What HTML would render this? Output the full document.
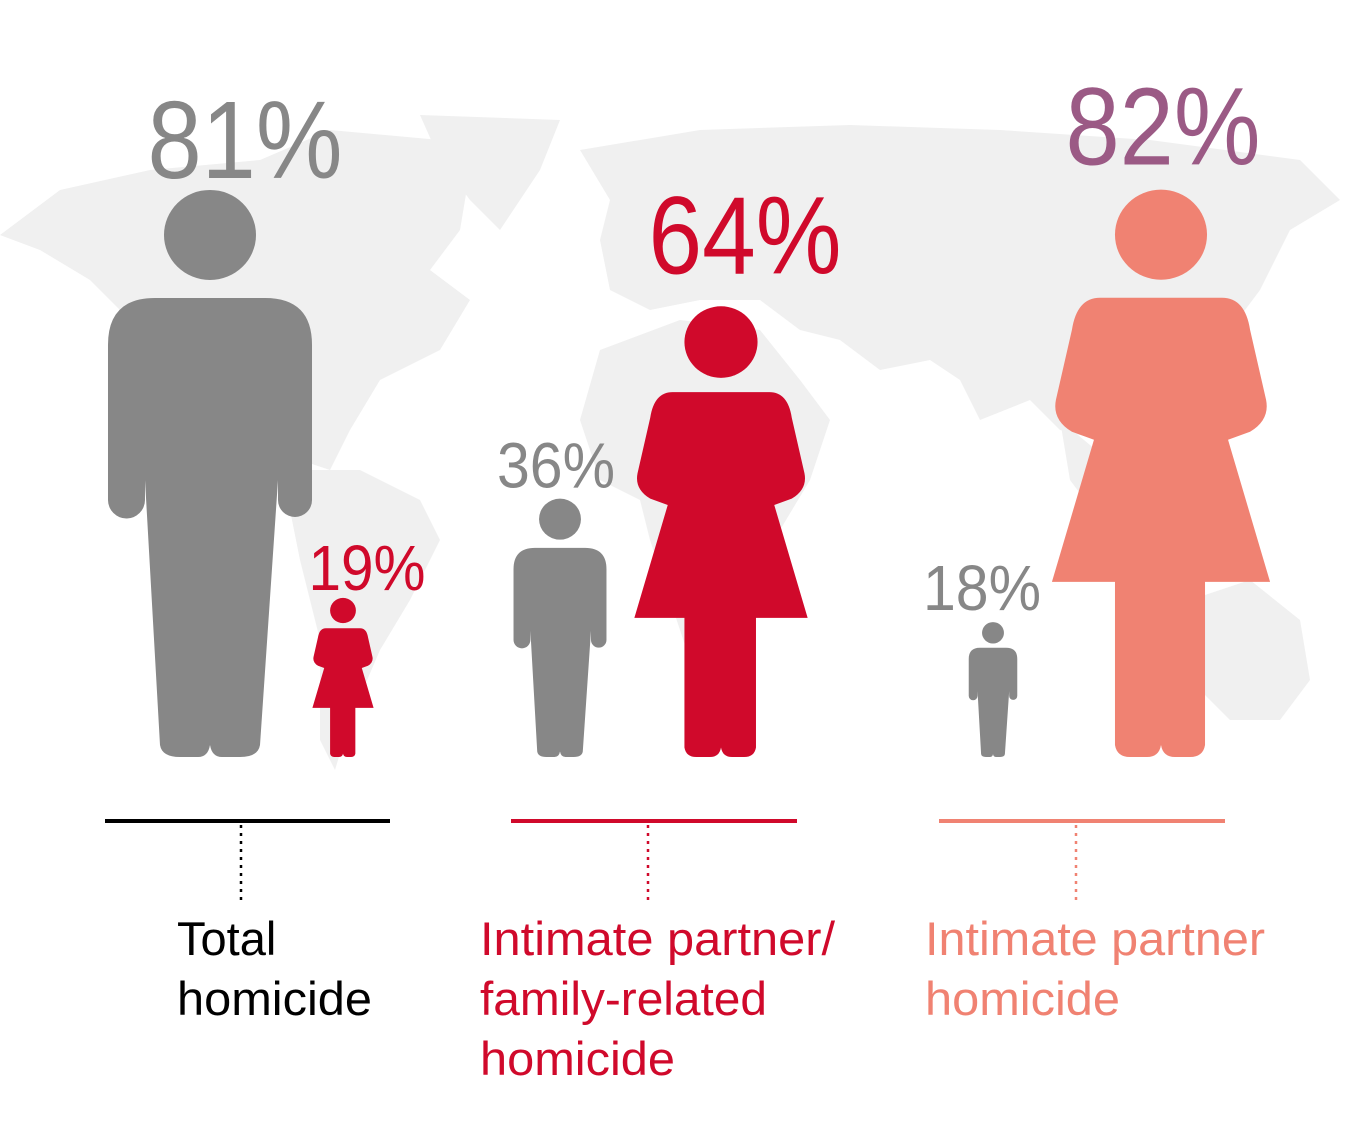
<!DOCTYPE html>
<html><head><meta charset="utf-8"><style>
html,body{margin:0;padding:0;background:#fff}
svg{display:block}
text{font-family:"Liberation Sans",sans-serif}
</style></head><body>
<svg id="chart" width="1362" height="1123" viewBox="0 0 1362 1123" xmlns="http://www.w3.org/2000/svg">
<g fill="#f0f0f0">
<path d="M0,235 L60,190 L150,170 L260,160 L330,130 L440,140 L470,170 L460,230 L430,270 L470,300 L440,350 L380,380 L350,430 L330,470 L300,460 L260,420 L200,380 L140,330 L90,280 L40,250 Z"/>
<path d="M420,115 L560,120 L540,170 L500,230 L470,200 L440,160 Z"/>
<path d="M300,470 L360,470 L420,500 L440,540 L410,600 L380,650 L350,720 L335,770 L320,740 L320,640 L300,560 L290,510 Z"/>
<path d="M580,150 L700,130 L850,125 L1000,130 L1150,140 L1300,160 L1340,200 L1290,230 L1260,290 L1230,330 L1190,380 L1150,420 L1100,440 L1060,430 L1030,400 L980,420 L960,380 L930,360 L880,370 L840,340 L800,330 L760,300 L700,300 L650,310 L610,290 L600,240 L610,200 Z"/>
<path d="M600,350 L680,320 L760,330 L800,380 L830,420 L810,480 L780,530 L760,600 L720,660 L690,660 L670,600 L650,540 L640,500 L600,480 L580,420 Z"/>
<path d="M1060,420 L1120,470 L1160,520 L1200,540 L1260,560 L1210,580 L1150,560 L1100,520 L1070,480 Z"/>
<path d="M1190,600 L1250,580 L1300,620 L1310,680 L1280,720 L1230,720 L1200,690 L1180,650 Z"/>
</g>
<g id="figures"></g>
<g id="labels"></g>
<g>
<line x1="105" y1="821" x2="390" y2="821" stroke="#000" stroke-width="4"/>
<line x1="511" y1="821" x2="797" y2="821" stroke="#d0092b" stroke-width="4"/>
<line x1="939" y1="821" x2="1225" y2="821" stroke="#f08272" stroke-width="4"/>
<line x1="241" y1="825" x2="241" y2="905" stroke="#000" stroke-width="2.5" stroke-dasharray="3,5"/>
<line x1="648" y1="825" x2="648" y2="905" stroke="#d0092b" stroke-width="2.5" stroke-dasharray="3,5"/>
<line x1="1076" y1="825" x2="1076" y2="905" stroke="#f08272" stroke-width="2.5" stroke-dasharray="3,5"/>
</g>
<g font-size="47">
<text x="177" y="955" fill="#000">Total</text>
<text x="177" y="1015" fill="#000" textLength="195" lengthAdjust="spacingAndGlyphs">homicide</text>
<text x="480" y="955" fill="#d0092b" textLength="355" lengthAdjust="spacingAndGlyphs">Intimate partner/</text>
<text x="480" y="1015" fill="#d0092b" textLength="287" lengthAdjust="spacingAndGlyphs">family-related</text>
<text x="480" y="1075" fill="#d0092b" textLength="195" lengthAdjust="spacingAndGlyphs">homicide</text>
<text x="925" y="955" fill="#f08272" textLength="340" lengthAdjust="spacingAndGlyphs">Intimate partner</text>
<text x="925" y="1015" fill="#f08272" textLength="195" lengthAdjust="spacingAndGlyphs">homicide</text>
</g>
</svg>
<script>
const categories = ["Total homicide","Total homicide","Intimate partner/family-related","Intimate partner/family-related","Intimate partner","Intimate partner"];
const sexes = ["male","female","male","female","male","female"];
const values = [81,19,36,64,18,82];
const labels = ["81%","19%","36%","64%","18%","82%"];
// layout (not data)
const centers = [210,343,560,721,993,1161];
const figColors = ["#878787","#d0092b","#878787","#d0092b","#878787","#f08272"];
const labelColors = ["#878787","#d0092b","#878787","#d0092b","#878787","#9b5a85"];
const labelX = [245,367,556,745,982,1163];
const labelSize = [110,64,64,110,64,110];
const labelWidth = [195,117,118,193,118,195];
const labelGap = [12,8,11,33,12,25];

const BASE = 757;
function hScale(v, sex){ return sex==="male" ? 11.4 + 6.86*v : 36 + 6.48*v; }
const REF_H = 567;
const malePath = "M108,345 Q108,298 155,298 L265,298 Q312,298 312,345 L312,500 A17,17 0 0 1 278,500 L278,480 L260,745 Q258,757 240,757 L222,757 Q212,757 210,745 Q208,757 198,757 L180,757 Q162,757 160,745 L145,480 L145,500 A18.5,18.5 0 0 1 108,500 Z";
const femalePath = "M1100,298 L1222,298 Q1245,298 1250,330 L1266,400 Q1270,420 1250,432 L1228,440 L1270,582 L1205,582 L1205,745 Q1203,757 1190,757 L1175,757 Q1163,757 1161,745 Q1159,757 1147,757 L1130,757 Q1117,757 1115,745 L1115,582 L1052,582 L1094,440 L1072,432 Q1052,420 1056,400 L1072,330 Q1077,298 1100,298 Z";
const NS = "http://www.w3.org/2000/svg";
const fg = document.getElementById('figures');
const lg = document.getElementById('labels');
values.forEach((v,i)=>{
  const h = hScale(v, sexes[i]), s = h/REF_H;
  const male = sexes[i]==="male";
  const refCx = male?210:1161;
  const g = document.createElementNS(NS,'g');
  
  
  g.setAttribute('transform',`translate(${centers[i]},${BASE}) scale(${s}) translate(${-refCx},${-BASE})`);
  g.setAttribute('fill',figColors[i]);
  const c = document.createElementNS(NS,'ellipse');
  
  
  c.setAttribute('cx',refCx); c.setAttribute('cy',235); c.setAttribute('rx',46); c.setAttribute('ry',45);
  const p = document.createElementNS(NS,'path');
  
  
  p.setAttribute('d', male?malePath:femalePath);
  g.appendChild(c); g.appendChild(p); fg.appendChild(g);
  const t = document.createElementNS(NS,'text');
  
  
  t.setAttribute('x',labelX[i]);
  t.setAttribute('y',BASE-h-labelGap[i]);
  t.setAttribute('text-anchor','middle');
  t.setAttribute('font-size',labelSize[i]);
  t.setAttribute('fill',labelColors[i]);
  t.setAttribute('textLength',labelWidth[i]);
  t.setAttribute('lengthAdjust','spacingAndGlyphs');
  t.textContent = labels[i];
  lg.appendChild(t);
});
</script>
</body></html>
